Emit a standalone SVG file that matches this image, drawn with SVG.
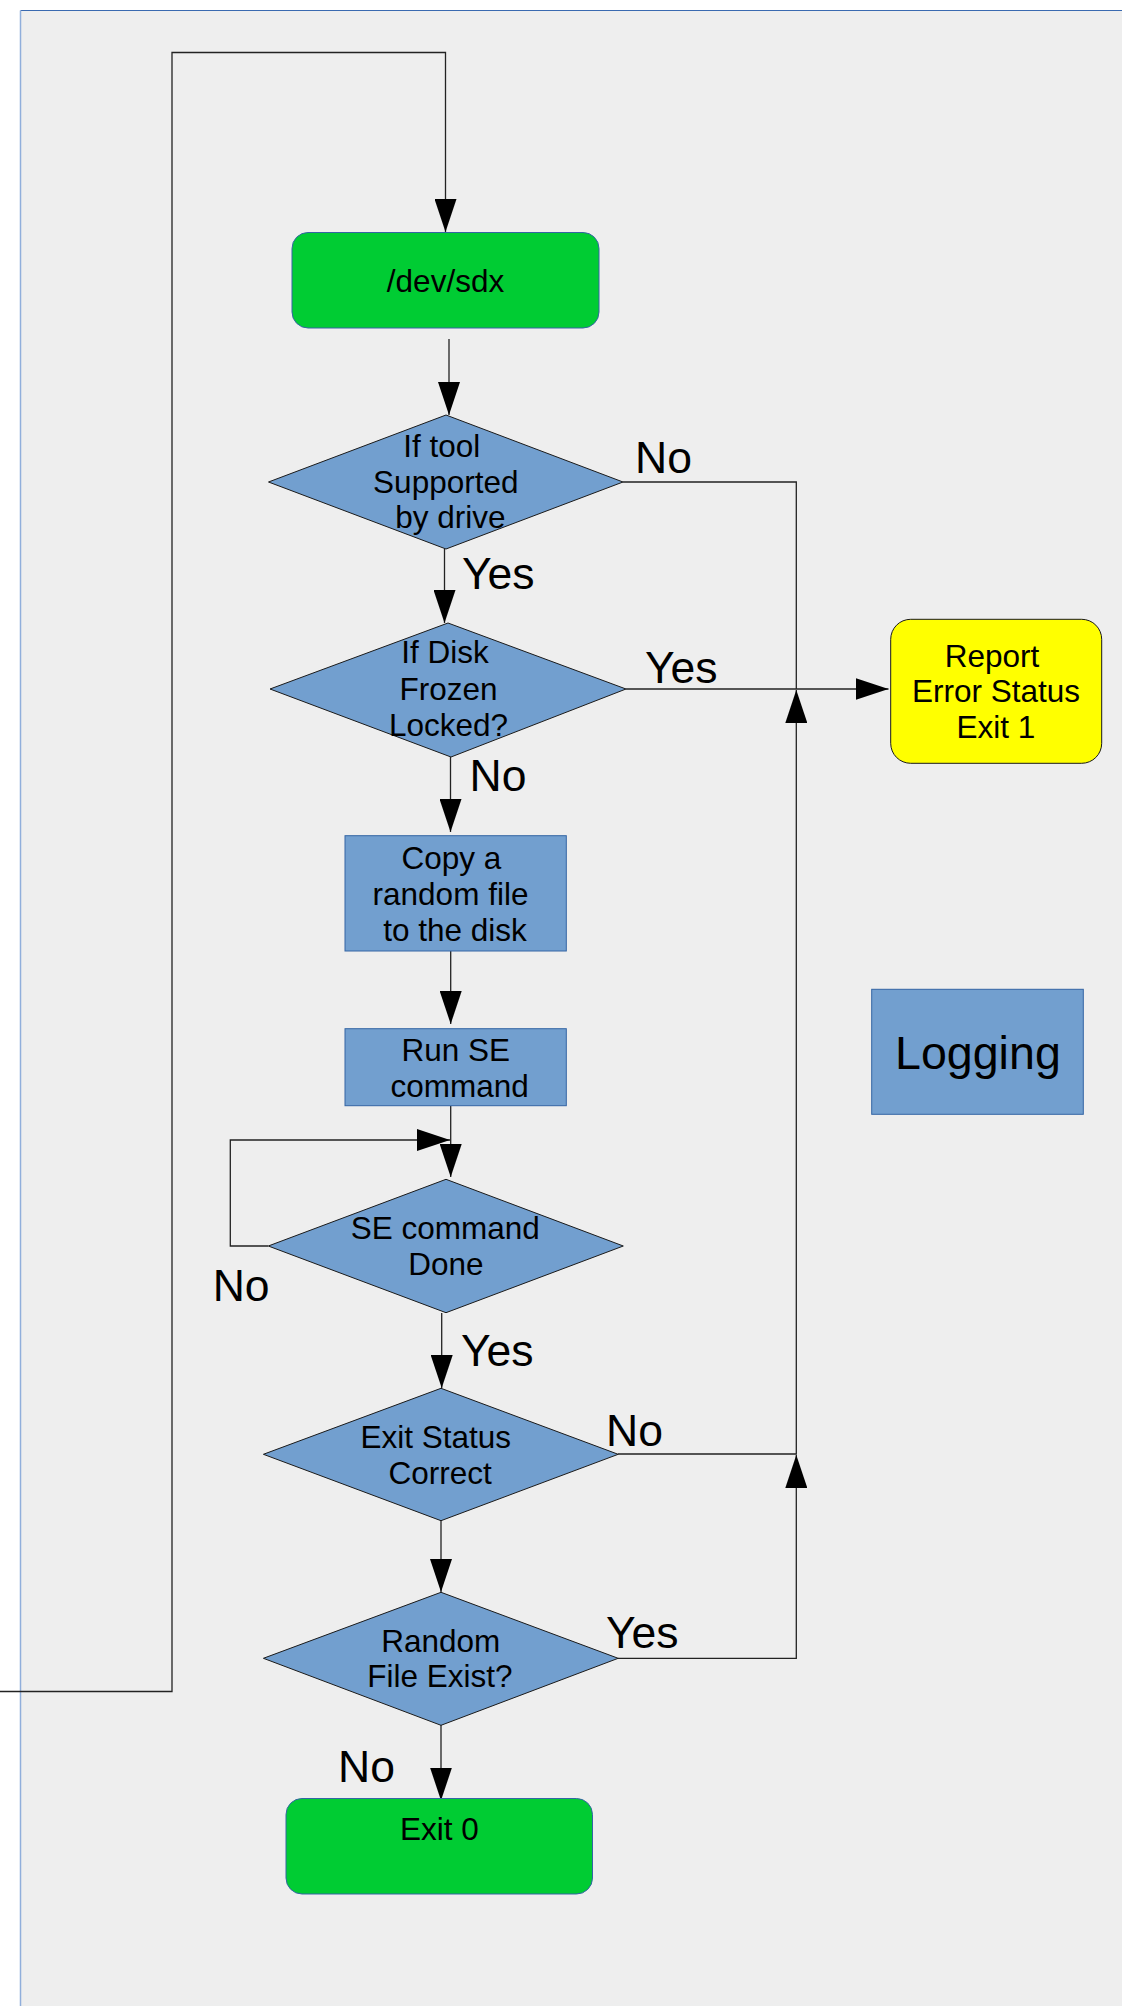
<svg xmlns="http://www.w3.org/2000/svg" width="1122" height="2006" viewBox="0 0 1122 2006">
<defs>
<style>
.t{font-family:"Liberation Sans",Arial,sans-serif;font-size:31.5px;fill:#000;text-anchor:middle}
.lbl{font-family:"Liberation Sans",Arial,sans-serif;font-size:44.5px;fill:#000}
.dia{fill:#729fcf;stroke:#1a1a1a;stroke-width:1}
.proc{fill:#729fcf;stroke:#3465a4;stroke-width:1}
.term{fill:#00cc33;stroke:#3465a4;stroke-width:1}
.err{fill:#ffff00;stroke:#1a1a1a;stroke-width:1}
.c{fill:none;stroke:#222;stroke-width:1.3;marker-end:url(#ah)}
.cn{fill:none;stroke:#222;stroke-width:1.3}
</style>
<marker id="ah" viewBox="0 0 33 22" refX="33" refY="11" markerWidth="33" markerHeight="22" markerUnits="userSpaceOnUse" orient="auto">
<path d="M0,0 L33,11 L0,22 z" fill="#000"/>
</marker>
</defs>
<rect x="0" y="0" width="1122" height="2006" fill="#ffffff"/>
<g id="panel">
<rect x="20.5" y="10.5" width="1110" height="2000" fill="#eeeeee"/>
<line x1="20.5" y1="10.5" x2="1122" y2="10.5" stroke="#3a6ab0" stroke-width="1.2"/>
<line x1="20.5" y1="10.5" x2="20.5" y2="2006" stroke="#90aedb" stroke-width="1.5"/>
</g>
<g id="connectors">
<path class="c" d="M0,1691.5 H172 V52.5 H445.5 V232"/>
<path class="c" d="M449,339 V415"/>
<path class="c" d="M444.5,549 V623"/>
<path class="cn" d="M623,482 H796.3 V689"/>
<path class="c" d="M626,689 H888.5"/>
<path class="c" d="M450.5,757 V832"/>
<path class="c" d="M450.7,951 V1024"/>
<path class="c" d="M450.7,1106 V1177"/>
<path class="c" d="M268,1246 H230.3 V1140 H450"/>
<path class="c" d="M441.7,1313 V1388"/>
<path class="c" d="M618,1454 H796.3 V690"/>
<path class="c" d="M441,1520.5 V1592"/>
<path class="c" d="M618,1658.3 H796.3 V1455"/>
<path class="c" d="M441,1725 V1800.5"/>
</g>
<g id="labels">
<text class="lbl" x="635" y="472.7">No</text>
<text class="lbl" x="462" y="589.3">Yes</text>
<text class="lbl" x="645" y="683.3">Yes</text>
<text class="lbl" x="469.5" y="791">No</text>
<text class="lbl" x="212.7" y="1301">No</text>
<text class="lbl" x="461" y="1365.7">Yes</text>
<text class="lbl" x="606" y="1446">No</text>
<text class="lbl" x="606" y="1648.3">Yes</text>
<text class="lbl" x="338" y="1781.7">No</text>
</g>
<g id="n_dev">
<rect class="term" x="292" y="232.5" width="307" height="95.5" rx="16"/>
<text class="t" x="445.5" y="292.3">/dev/sdx</text>
</g>
<g id="n_tool">
<polygon class="dia" points="446,415 623,482 446,549 268.5,482"/>
<text class="t" x="441.7" y="457">If tool</text>
<text class="t" x="445.8" y="493">Supported</text>
<text class="t" x="450.3" y="528">by drive</text>
</g>
<g id="n_frozen">
<polygon class="dia" points="448,623 626,689 451,757 270,689"/>
<text class="t" x="445" y="663.3">If Disk</text>
<text class="t" x="448.5" y="700">Frozen</text>
<text class="t" x="448.5" y="736">Locked?</text>
</g>
<g id="n_report">
<rect class="err" x="890.7" y="619.3" width="211" height="144" rx="20"/>
<text class="t" x="992" y="666.7">Report</text>
<text class="t" x="996" y="701.7">Error Status</text>
<text class="t" x="996" y="737.7">Exit 1</text>
</g>
<g id="n_copy">
<rect class="proc" x="345" y="835.7" width="221.3" height="115.3"/>
<text class="t" x="451.3" y="869">Copy a</text>
<text class="t" x="450.5" y="905">random file</text>
<text class="t" x="455" y="940.7">to the disk</text>
</g>
<g id="n_run">
<rect class="proc" x="345" y="1028.7" width="221.3" height="77"/>
<text class="t" x="455.8" y="1061">Run SE</text>
<text class="t" x="459.7" y="1096.7">command</text>
</g>
<g id="n_logging">
<rect class="proc" x="871.7" y="989.3" width="211.6" height="125"/>
<text class="t" x="977.9" y="1069" style="font-size:46.6px">Logging</text>
</g>
<g id="n_done">
<polygon class="dia" points="446,1179.3 623.3,1246 446,1312.7 268.3,1246"/>
<text class="t" x="445.3" y="1239.3">SE command</text>
<text class="t" x="445.8" y="1275">Done</text>
</g>
<g id="n_exitstatus">
<polygon class="dia" points="441,1388.3 618.2,1454.3 441,1520.7 263.4,1454.3"/>
<text class="t" x="435.8" y="1447.7">Exit Status</text>
<text class="t" x="440.2" y="1484">Correct</text>
</g>
<g id="n_random">
<polygon class="dia" points="441,1592.3 618.2,1658.3 441,1725.3 263.4,1658.3"/>
<text class="t" x="440.7" y="1651.7">Random</text>
<text class="t" x="440" y="1687.3">File Exist?</text>
</g>
<g id="n_exit0">
<rect class="term" x="286" y="1798.5" width="306.5" height="95.5" rx="16"/>
<text class="t" x="439.5" y="1840">Exit 0</text>
</g>
</svg>
